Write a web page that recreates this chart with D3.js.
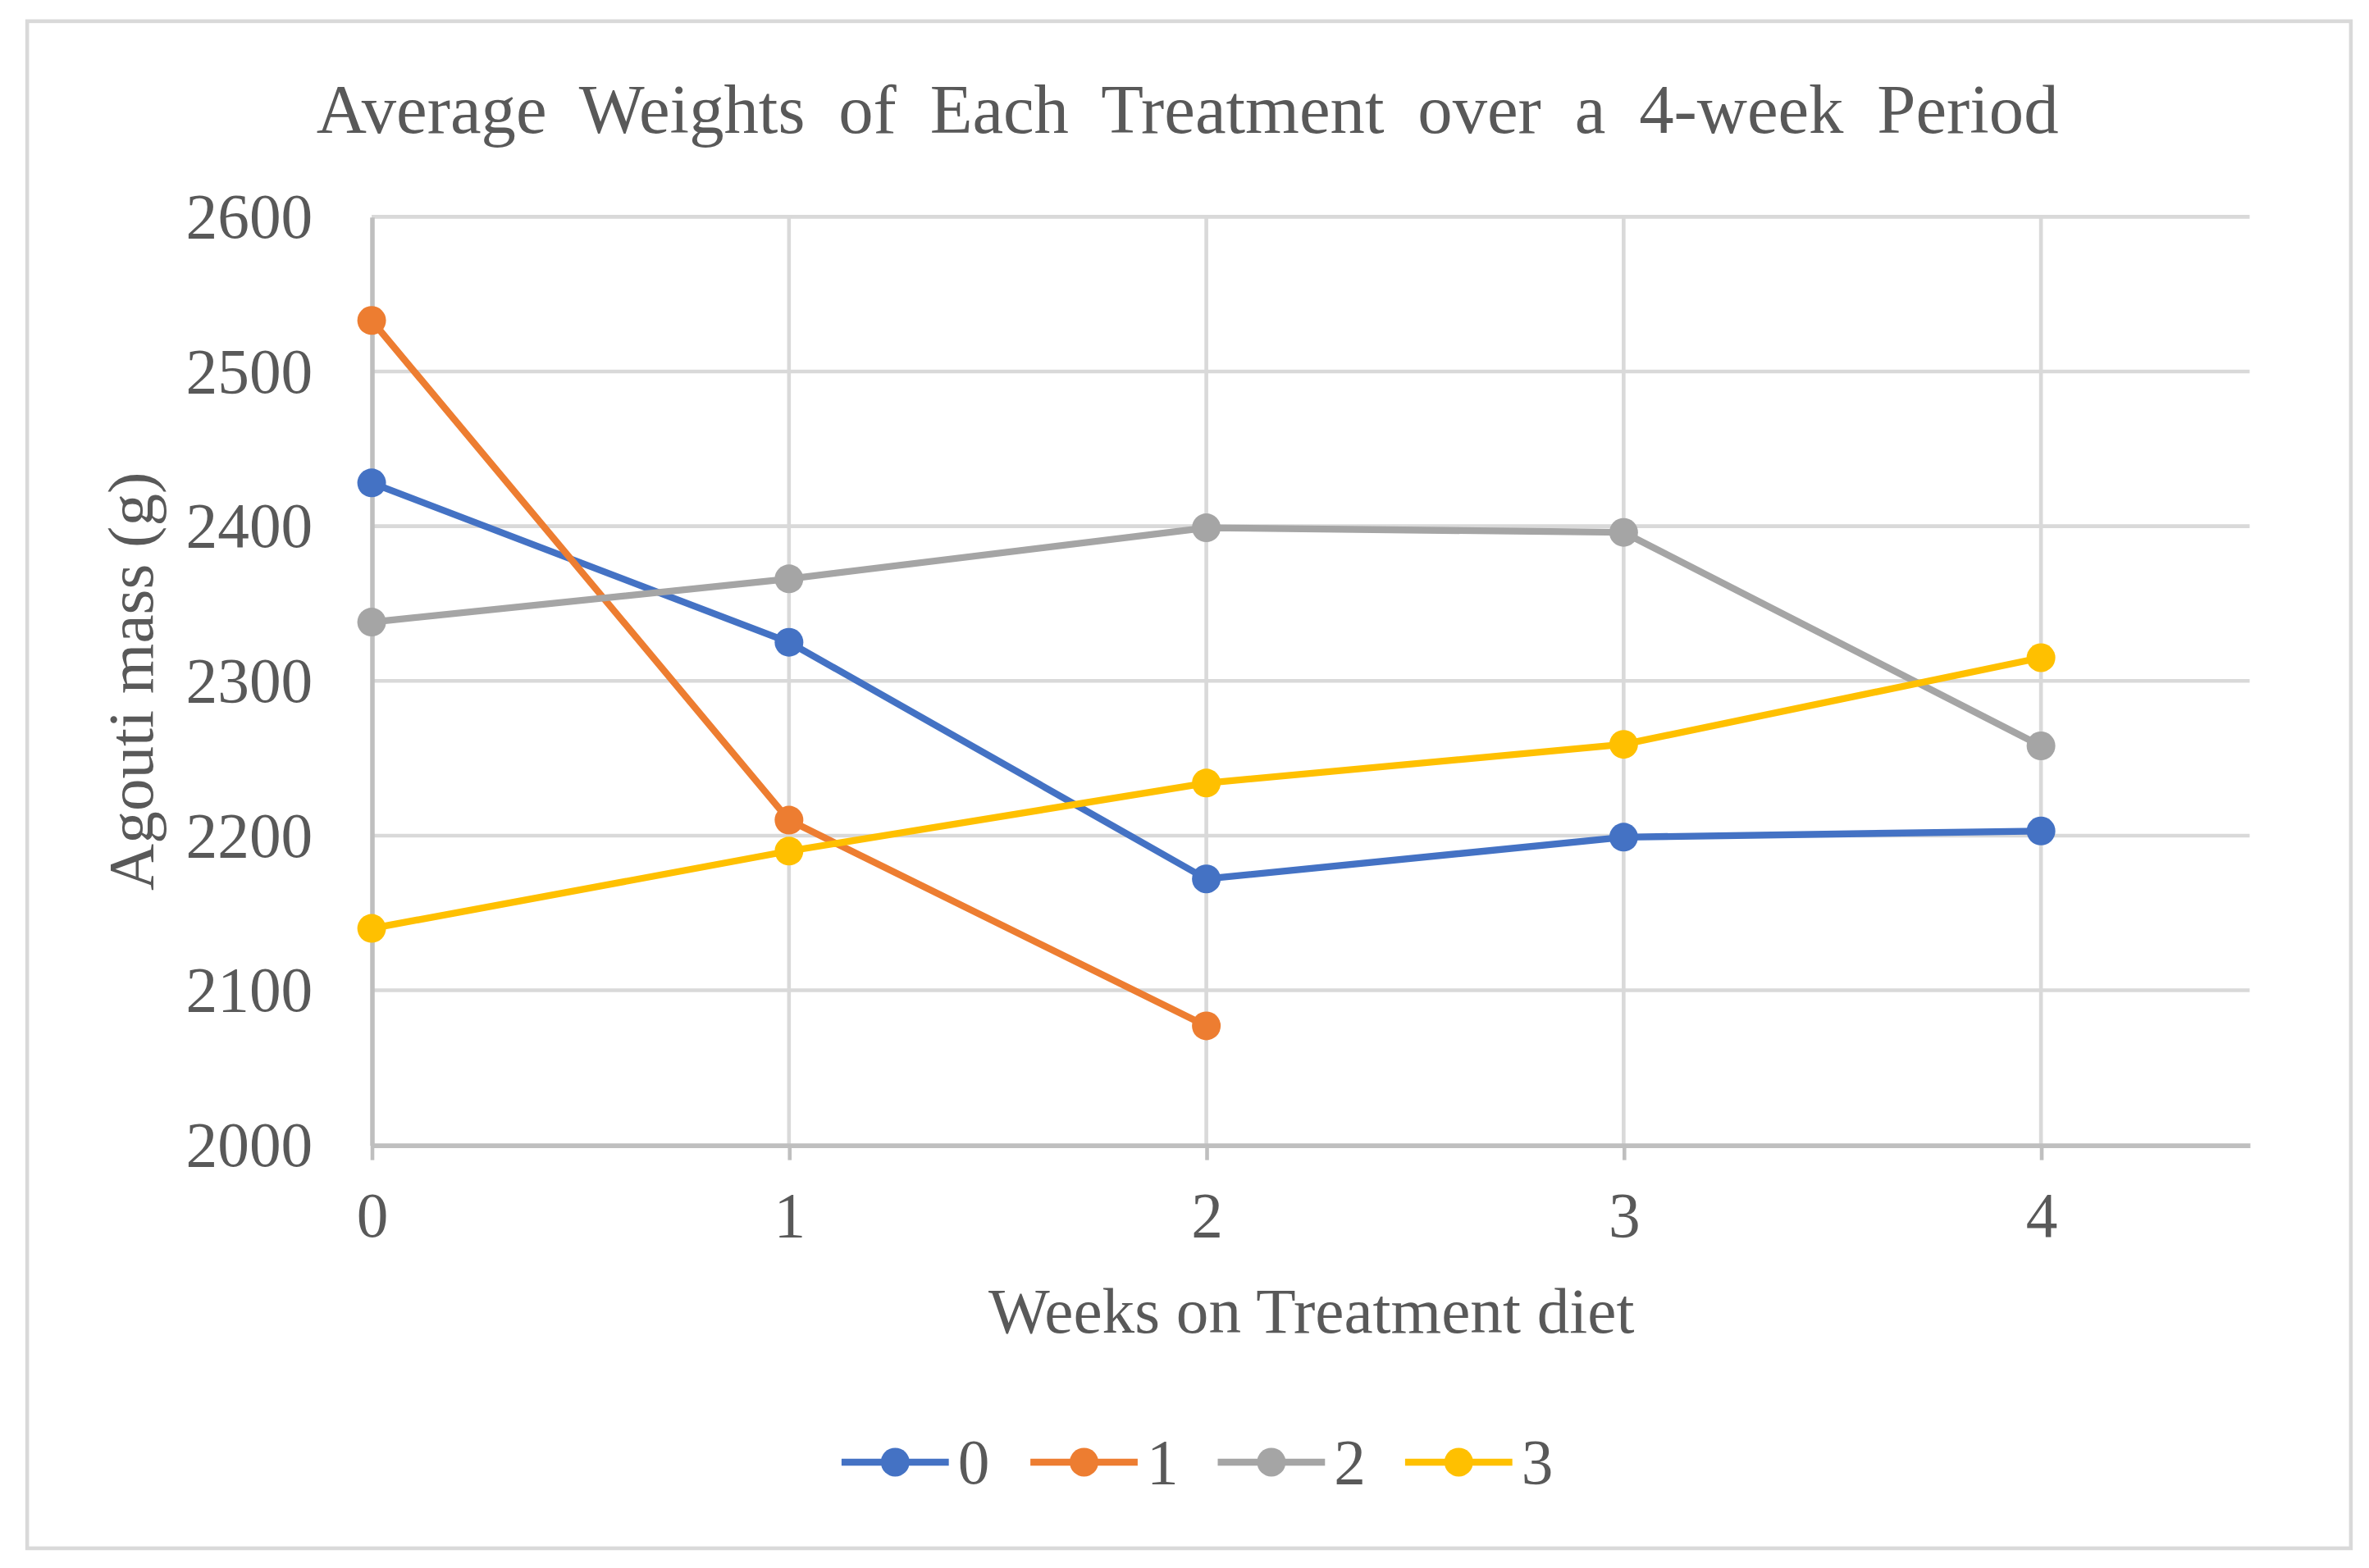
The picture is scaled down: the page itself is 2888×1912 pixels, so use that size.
<!DOCTYPE html>
<html>
<head>
<meta charset="utf-8">
<script src="https://cdn.jsdelivr.net/npm/d3@7"></script>
<style>
    html, body { margin: 0; padding: 0; background: #fff; }
    svg { display: block; }
    text { font-family: "Liberation Serif", "Times New Roman", serif; fill: #595959; }
</style>
</head>
<body>
<svg id="chart" width="2888" height="1912" viewBox="0 0 1568 1038"></svg>
<script>
// Chart data
var weeks = [0, 1, 2, 3, 4];
var yTicks = [2000, 2100, 2200, 2300, 2400, 2500, 2600];
var seriesNames = ["0", "1", "2", "3"];
var colors = ["#4472C4", "#ED7D31", "#A5A5A5", "#FFC000"];
var treatment0 = [2428, 2325, 2172, 2199, 2203];
var treatment1 = [2533, 2210, 2077];
var treatment2 = [2338, 2366, 2399, 2396, 2258];
var treatment3 = [2140, 2190, 2234, 2259, 2315];
var allSeries = [treatment0, treatment1, treatment2, treatment3];

var svg = d3.select("#chart");

// outer frame
svg.append("rect")
    .attr("x", 18).attr("y", 14)
    .attr("width", 1538).attr("height", 1011)
    .attr("fill", "#fff")
    .attr("stroke", "#d9d9d9")
    .attr("stroke-width", 2.5);

var x = d3.scaleLinear().domain([0, 4.5]).range([246, 1489]);
var y = d3.scaleLinear().domain([2000, 2600]).range([758, 143.5]);

// gridlines
svg.append("g").selectAll("line")
    .data(yTicks.slice(1))
    .enter().append("line")
        .attr("x1", x(0)).attr("x2", x(4.5))
        .attr("y1", d => y(d)).attr("y2", d => y(d))
        .attr("stroke", "#d9d9d9").attr("stroke-width", 2.5);
svg.append("g").selectAll("line")
    .data(weeks.slice(1))
    .enter().append("line")
        .attr("x1", d => x(d)).attr("x2", d => x(d))
        .attr("y1", y(2600)).attr("y2", y(2000))
        .attr("stroke", "#d9d9d9").attr("stroke-width", 2.5);

// axes
var xAxis = svg.append("g")
    .attr("transform", "translate(0," + y(2000) + ")")
    .call(d3.axisBottom(x).tickValues(weeks).tickFormat(d3.format("d"))
        .tickSize(10).tickPadding(21).tickSizeOuter(0));
var yAxis = svg.append("g")
    .attr("transform", "translate(" + x(0) + ",0)")
    .call(d3.axisLeft(y).tickValues(yTicks).tickFormat(d3.format("d"))
        .tickSize(0).tickPadding(39));

xAxis.select(".domain").attr("stroke", "#bfbfbf").attr("stroke-width", 3);
xAxis.selectAll(".tick line").attr("stroke", "#bfbfbf").attr("stroke-width", 2.5);
yAxis.select(".domain").attr("stroke", "#bfbfbf").attr("stroke-width", 3);
svg.selectAll(".tick text")
    .attr("fill", "#595959")
    .style("font-family", "Liberation Serif")
    .style("font-size", "42px");

// lines and markers
var line = d3.line().x((d, i) => x(weeks[i])).y(d => y(d));
allSeries.forEach(function (vals, s) {
    svg.append("path")
        .attr("d", line(vals))
        .attr("fill", "none")
        .attr("stroke", colors[s])
        .attr("stroke-width", 4.5)
        .attr("stroke-linejoin", "round");
    svg.append("g").selectAll("circle")
        .data(vals)
        .enter().append("circle")
            .attr("cx", (d, i) => x(weeks[i]))
            .attr("cy", d => y(d))
            .attr("r", 9.5)
            .attr("fill", colors[s]);
});

// title: widen the gaps between words like the original
var title = svg.append("text")
    .attr("x", 786).attr("y", 88)
    .attr("text-anchor", "middle")
    .style("font-size", "46px")
    .text("Average Weights of Each Treatment over a 4-week Period");
var natural = title.node().getComputedTextLength();
title.attr("word-spacing", Math.max(0, (1153 - natural) / 8));

svg.append("text")
    .attr("x", 868).attr("y", 882)
    .attr("text-anchor", "middle")
    .style("font-size", "43px")
    .text("Weeks on Treatment diet");

svg.append("text")
    .attr("transform", "translate(101,451) rotate(-90)")
    .attr("text-anchor", "middle")
    .style("font-size", "43px")
    .text("Agouti mass (g)");

// legend
var legendX = [557, 682, 806, 930];
var legend = svg.append("g").selectAll("g")
    .data(seriesNames)
    .enter().append("g")
        .attr("transform", (d, i) => "translate(" + legendX[i] + ",968)");
legend.append("line")
    .attr("x1", 0).attr("x2", 71)
    .attr("stroke", (d, i) => colors[i])
    .attr("stroke-width", 4.5);
legend.append("circle")
    .attr("cx", 35.5).attr("r", 9.5)
    .attr("fill", (d, i) => colors[i]);
legend.append("text")
    .attr("x", 77).attr("y", 14)
    .style("font-size", "42px")
    .text(d => d);
</script>
</body>
</html>
